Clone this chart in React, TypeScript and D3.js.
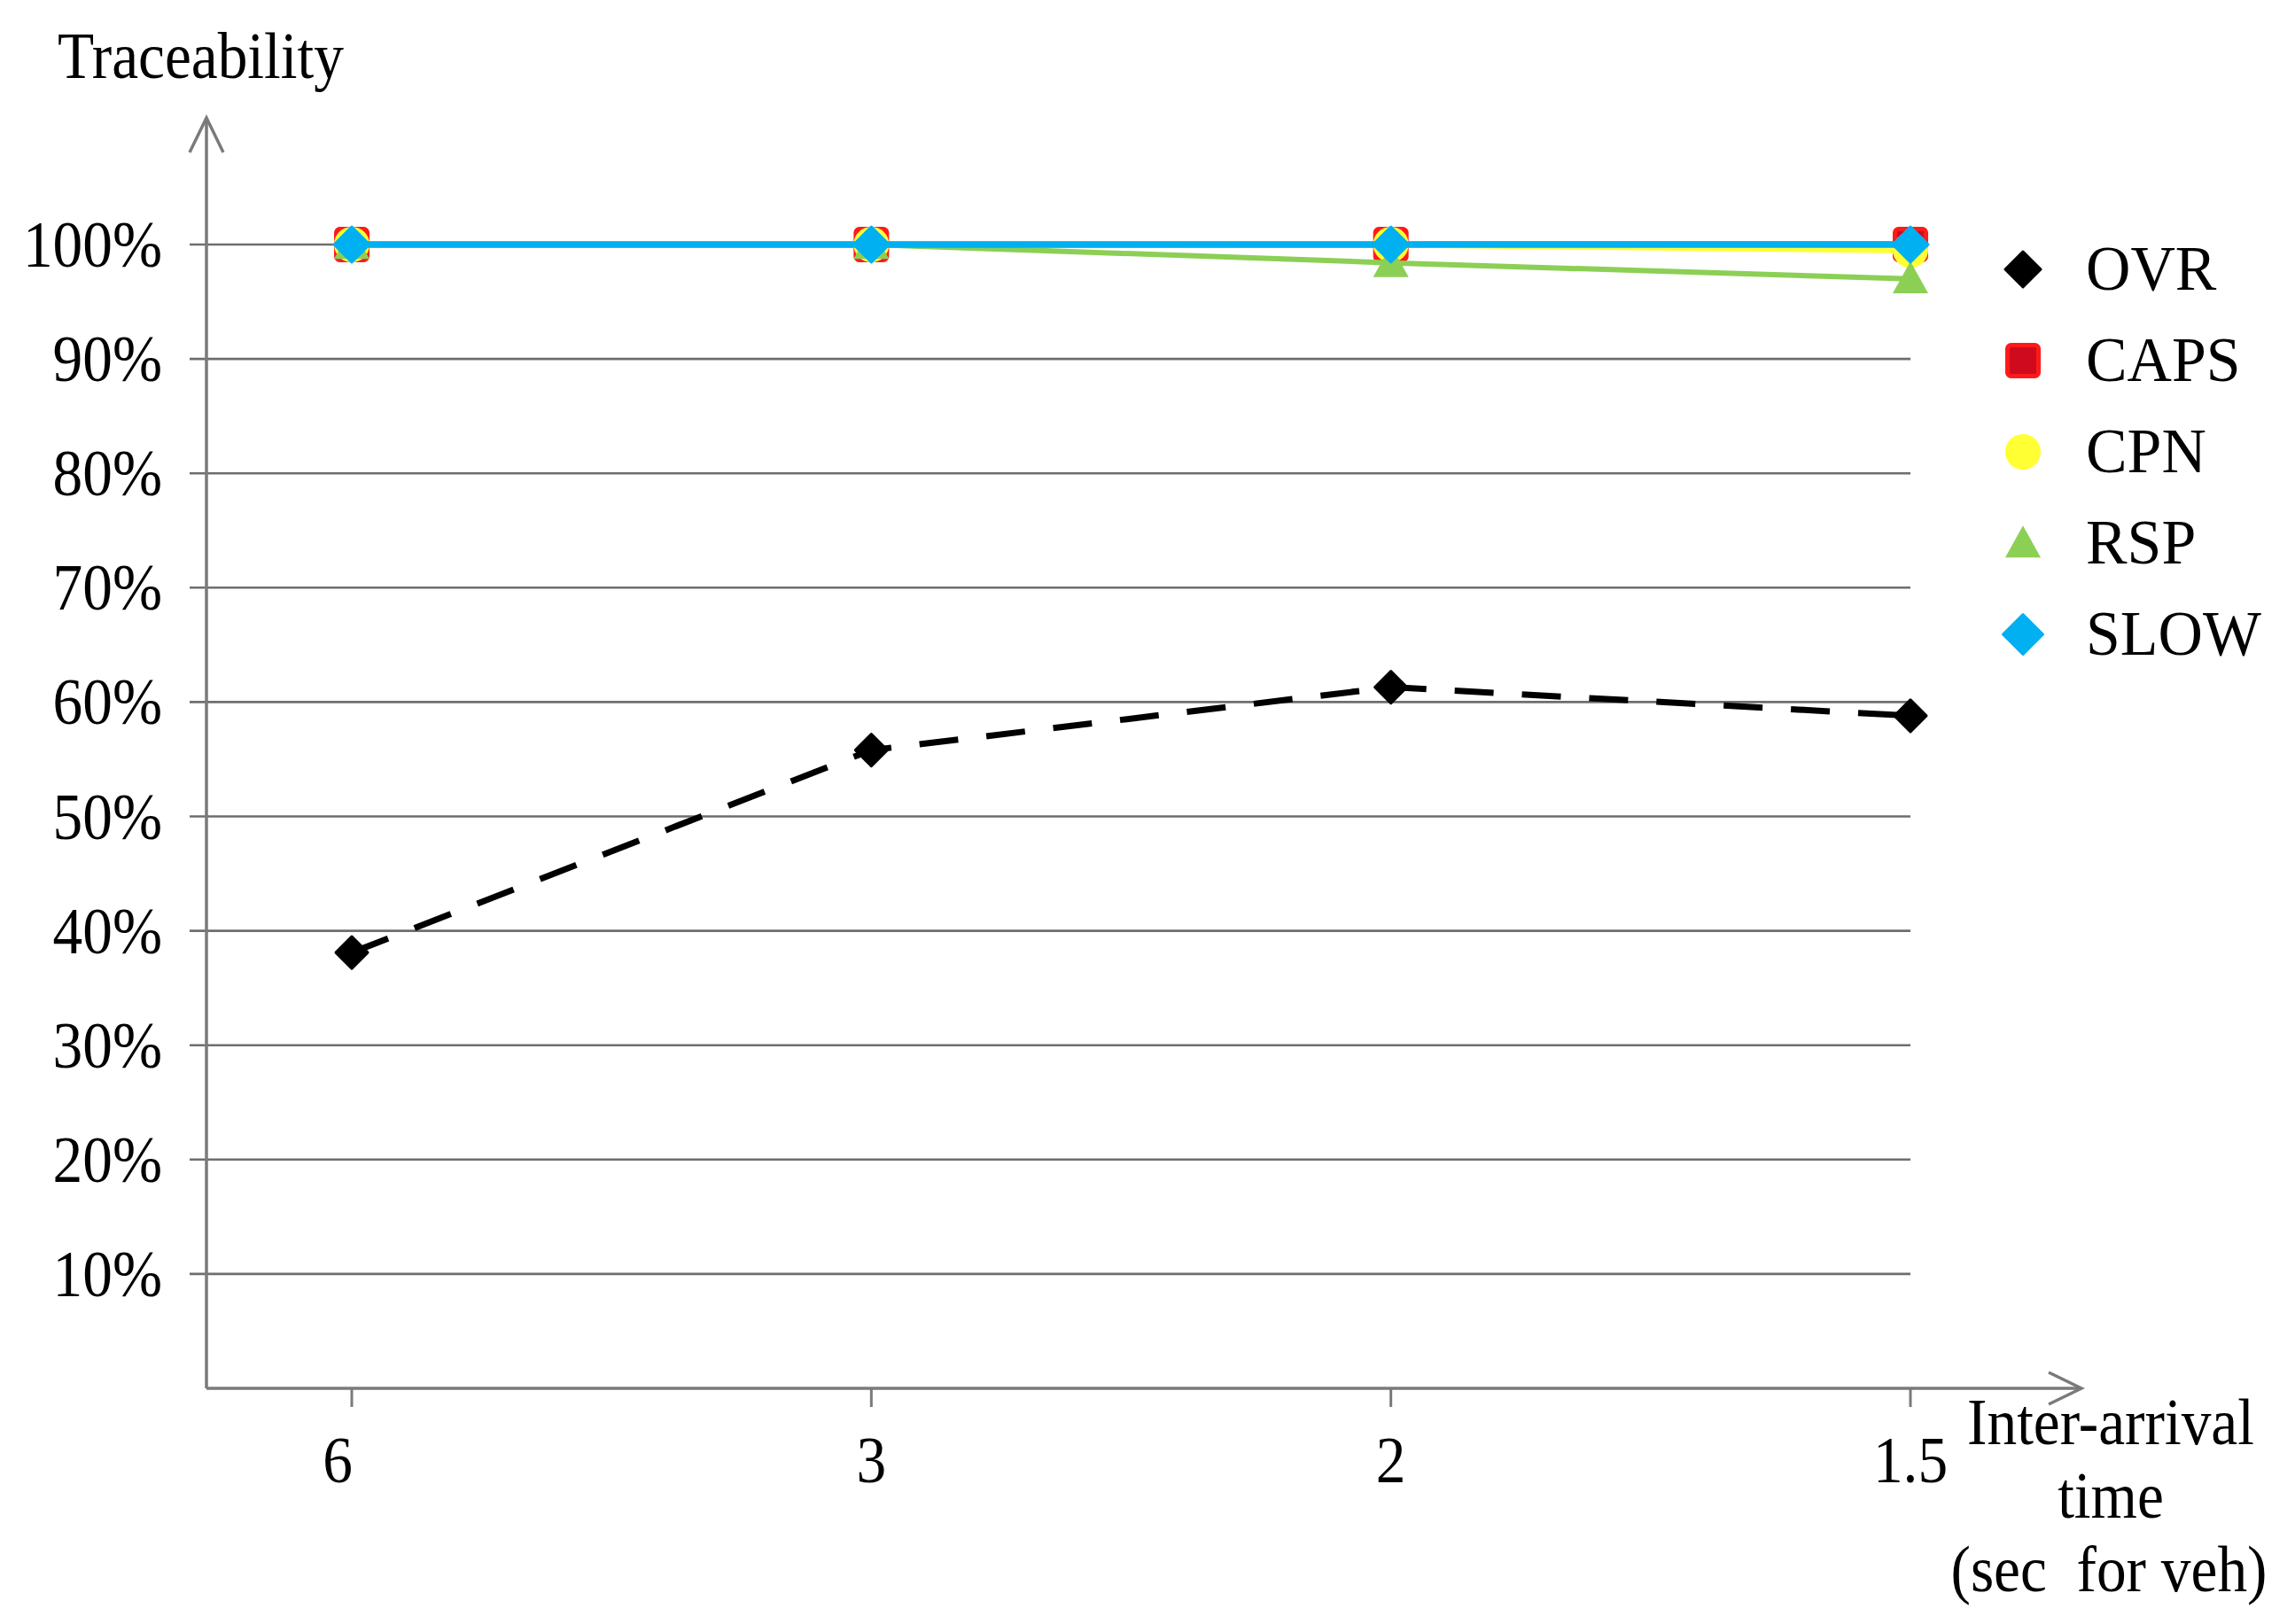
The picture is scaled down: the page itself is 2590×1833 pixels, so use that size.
import React from "react";
import * as d3 from "d3";

const categories = ["6", "3", "2", "1.5"];
const ovr = [38.1, 55.8, 61.3, 58.8];
const caps = [100, 100, 100, 100];
const cpn = [100, 100, 100, 99.5];
const rsp = [100, 100, 98.4, 97.0];
const slow = [100, 100, 100, 100];
const yTicks = [10, 20, 30, 40, 50, 60, 70, 80, 90, 100];
const seriesNames = ["OVR", "CAPS", "CPN", "RSP", "SLOW"];

const W = 2590;
const H = 1833;
const FONT = "'Liberation Serif', 'Times New Roman', serif";
const AX = "#7a7a7a";

const x = d3.scalePoint<string>().domain(categories).range([397, 2156]);
const y = d3.scaleLinear().domain([0, 100]).range([1567, 276]);

type Sym = "diamond" | "square" | "circle" | "triangle";

function Marker({ cx, cy, sym, fill, stroke, size }: { cx: number; cy: number; sym: Sym; fill: string; stroke?: string; size: number }) {
  const h = size / 2;
  if (sym === "diamond") {
    return <path d={`M${cx},${cy - h}L${cx + h},${cy}L${cx},${cy + h}L${cx - h},${cy}Z`} fill={fill} stroke={fill} strokeWidth={3} strokeLinejoin="round" />;
  }
  if (sym === "square") {
    return <rect x={cx - h + 2.5} y={cy - h + 2.5} width={size - 5} height={size - 5} rx={4} fill={fill} stroke={stroke} strokeWidth={5} />;
  }
  if (sym === "circle") {
    return <circle cx={cx} cy={cy} r={h} fill={fill} />;
  }
  const th = size * 0.9;
  return <path d={`M${cx},${cy - th * 0.55}L${cx + h},${cy + th * 0.45}L${cx - h},${cy + th * 0.45}Z`} fill={fill} />;
}

const series = [
  { name: seriesNames[0], values: ovr, color: "#000000", sym: "diamond" as Sym, size: 36, dash: "44 32", width: 7, fill: "#000000" },
  { name: seriesNames[1], values: caps, color: "#FF1A1A", sym: "square" as Sym, size: 40, dash: "", width: 7, fill: "#D00A1E" },
  { name: seriesNames[2], values: cpn, color: "#FFFF33", sym: "circle" as Sym, size: 40, dash: "", width: 7, fill: "#FFFF33" },
  { name: seriesNames[3], values: rsp, color: "#8CCF55", sym: "triangle" as Sym, size: 40, dash: "", width: 6, fill: "#8CCF55" },
  { name: seriesNames[4], values: slow, color: "#00B0F0", sym: "diamond" as Sym, size: 40, dash: "", width: 7.5, fill: "#00B0F0" },
];

function SText({ x: tx, y: ty, children, anchor = "start", size = 74, sx = 0.91 }: any) {
  return (
    <text transform={`translate(${tx},${ty}) scale(${sx},1)`} textAnchor={anchor} fontFamily={FONT} fontSize={size} fill="#000">
      {children}
    </text>
  );
}

export default function App() {
  const line = d3
    .line<number>()
    .x((_, i) => x(categories[i]) as number)
    .y((d) => y(d));

  const xAxisY = y(0);
  const xLeft = 233;
  const xRight = 2349;
  const yTop = 133;

  return (
    <svg width={W} height={H} style={{ position: "absolute", left: 0, top: 0, background: "#fff" }}>
      <rect width={W} height={H} fill="#fff" />
      {/* gridlines */}
      {yTicks.map((t) => (
        <line key={t} x1={214} x2={2156} y1={y(t)} y2={y(t)} stroke="#6e6e6e" strokeWidth={2.6} />
      ))}
      {/* y labels */}
      {yTicks.map((t) => (
        <SText key={"l" + t} x={183} y={y(t) + 25} anchor="end">
          {t}%
        </SText>
      ))}
      {/* axes */}
      <line x1={xLeft} x2={xLeft} y1={xAxisY} y2={yTop} stroke={AX} strokeWidth={3.5} />
      <polyline points={`${xLeft - 19},${yTop + 39} ${xLeft},${yTop} ${xLeft + 19},${yTop + 39}`} fill="none" stroke={AX} strokeWidth={3.5} />
      <line x1={xLeft} x2={xRight} y1={xAxisY} y2={xAxisY} stroke={AX} strokeWidth={3.5} />
      <polyline points={`${xRight - 37},${xAxisY - 18} ${xRight},${xAxisY} ${xRight - 37},${xAxisY + 18}`} fill="none" stroke={AX} strokeWidth={3.5} />
      {categories.map((c) => (
        <line key={"t" + c} x1={x(c)} x2={x(c)} y1={xAxisY} y2={xAxisY + 21} stroke={AX} strokeWidth={3} />
      ))}
      {categories.map((c, i) => (
        <SText key={"xl" + c} x={(x(c) as number) - (i === 0 ? 16 : 0)} y={1673} anchor="middle">
          {c}
        </SText>
      ))}
      {/* titles */}
      <SText x={65} y={88}>Traceability</SText>
      <SText x={2382} y={1630} anchor="middle">Inter-arrival</SText>
      <SText x={2382} y={1713} anchor="middle">time</SText>
      <SText x={2380} y={1796} anchor="middle">(sec&#160; for veh)</SText>
      {/* series */}
      {series.map((s) => (
        <g key={s.name}>
          <path d={line(s.values) as string} fill="none" stroke={s.color} strokeWidth={s.width} strokeDasharray={s.dash || undefined} />
          {s.values.map((v, i) => (
            <Marker key={i} cx={x(categories[i]) as number} cy={y(v)} sym={s.sym} fill={s.fill} stroke={s.color} size={s.size} />
          ))}
        </g>
      ))}
      {/* legend */}
      {series.map((s, i) => {
        const ly = 304 + i * 103;
        return (
          <g key={"lg" + s.name}>
            <Marker cx={2283} cy={ly} sym={s.sym} fill={s.fill} stroke={s.color} size={s.sym === "diamond" ? (i === 0 ? 40 : 45) : 40} />
            <SText x={2354} y={ly + 23} size={72} sx={0.97}>
              {s.name}
            </SText>
          </g>
        );
      })}
    </svg>
  );
}
